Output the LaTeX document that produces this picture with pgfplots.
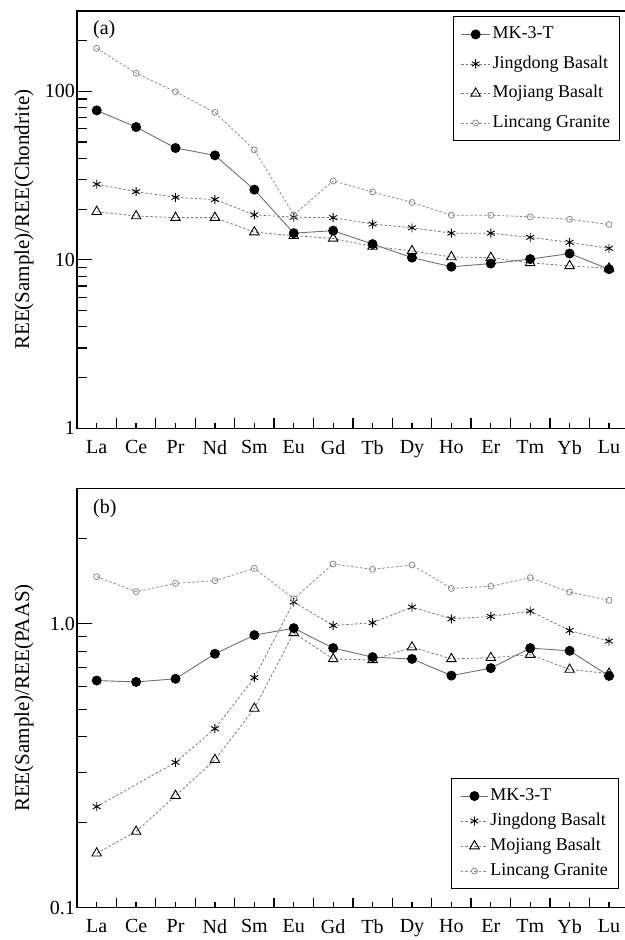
\documentclass[border=0pt]{standalone}
\usepackage{pgfplots}
\usepackage{pgfplotstable}
\pgfplotsset{compat=1.18}
\usepackage{fontspec}
\setmainfont{Liberation Serif}
\definecolor{mkline}{HTML}{707070}
\definecolor{dline}{HTML}{7A7A7A}
\definecolor{lcg}{HTML}{8C8C8C}

\pgfplotstableread{
x MK JD MJ LC
0 77.1 28.1 19.3 180
1 61.4 25.4 18.2 128
2 46.1 23.5 17.8 99.5
3 41.7 22.8 17.8 75
4 26.1 18.5 14.6 44.9
5 14.4 17.9 13.9 18.5
6 14.9 17.8 13.4 29.4
7 12.4 16.3 12.0 25.3
8 10.3 15.5 11.3 21.9
9 9.1 14.4 10.4 18.4
10 9.5 14.4 10.3 18.4
11 10.1 13.6 9.6 18.0
12 10.9 12.7 9.2 17.4
13 8.8 11.7 8.9 16.2
}\chon

\pgfplotstableread{
x MK JD MJ LC
0 0.631 0.227 0.1555 1.465
1 0.624 nan 0.1855 1.297
2 0.640 0.325 0.248 1.388
3 0.784 0.427 0.332 1.418
4 0.912 0.646 0.503 1.567
5 0.965 1.193 0.929 1.225
6 0.821 0.986 0.752 1.624
7 0.763 1.008 0.746 1.555
8 0.752 1.145 0.827 1.611
9 0.657 1.041 0.752 1.332
10 0.698 1.061 0.759 1.355
11 0.821 1.108 0.779 1.453
12 0.803 0.947 0.690 1.293
13 0.655 0.869 0.668 1.209
}\paas

\pgfplotsset{
  mkstyle/.style={color=mkline, line width=0.9pt, mark=*, mark size=4.5pt, mark options={solid, fill=black, draw=black}},
  jdstyle/.style={color=dline, line width=0.8pt, dash pattern=on 2.5pt off 2pt, mark=asterisk, mark size=4.5pt, mark options={solid, black, line width=0.9pt}},
  mjstyle/.style={color=dline, line width=0.8pt, dash pattern=on 2.5pt off 2pt, mark=triangle, mark size=5.5pt, mark options={solid, black, line width=0.9pt}},
  lcstyle/.style={color=lcg, line width=0.8pt, dash pattern=on 2.5pt off 2pt, mark=o, mark size=3pt, mark options={solid, lcg, line width=0.8pt}},
}

\begin{document}
\begin{tikzpicture}
\begin{axis}[ymode=log, clip=false,
  scale only axis, width=548.5pt, xmin=-0.5, xmax=13.418,
  xtick={0,1,2,3,4,5,6,7,8,9,10,11,12,13},
  xticklabels={La,Ce,Pr,Nd,Sm,Eu,Gd,Tb,Dy,Ho,Er,Tm,Yb,Lu},
  tick align=inside,
  xtick pos=left, ytick pos=left,
  major tick length=5pt, minor tick length=9.5pt,
  ytick={1,10,100}, yticklabels={1,10,100},
  extra y ticks={1,10,100}, extra y tick labels={},
  extra y tick style={major tick length=15pt},
  axis line style={line width=1.2pt},
  every tick/.style={line width=1.2pt, black},
  every minor tick/.style={line width=1.2pt, black},
  ticklabel style={font=\fontsize{20}{24}\selectfont},
  xticklabel style={yshift=-8.5pt},
  yticklabel style={inner xsep=2pt},
  /pgf/number format/assume math mode=true,
  every axis y label/.style={at={(axis description cs:-0.0966,0.5)}, rotate=90, anchor=center, font=\fontsize{21}{25}\selectfont},
  legend cell align=left,
  legend image code/.code={\draw[mark repeat=2,mark phase=2] plot coordinates {(0pt,0pt)(14.5pt,0pt)(29pt,0pt)};},
  at={(77pt,511.7pt)}, anchor=south west, height=417.3pt,
  ymin=1, ymax=300,
  minor ytick={2,3,4,5,6,7,8,9,20,30,40,50,60,70,80,90,200,300},
  ylabel={REE(Sample)/REE(Chondrite)},
  legend style={at={(rel axis cs:1,1)}, anchor=north east, xshift=-5.5pt, yshift=-5pt,
    draw=black, line width=0.9pt, font=\fontsize{18}{21}\selectfont,
    inner sep=7.5pt, row sep=8.5pt,
    nodes={inner sep=2pt, text height=13pt, text depth=4pt}},
]
\pgfplotsinvokeforeach{0,1,2,3,4,5,6,7,8,9,10,11,12,13}{
  \draw[line width=1.3pt, black] (axis cs:#1,1) -- ([yshift=5.5pt]axis cs:#1,1);}
\pgfplotsinvokeforeach{-0.5,0.5,1.5,2.5,3.5,4.5,5.5,6.5,7.5,8.5,9.5,10.5,11.5,12.5}{
  \draw[line width=1.3pt, black] (axis cs:#1,1) -- ([yshift=10pt]axis cs:#1,1);}
\addplot[mkstyle] table[x=x,y=MK]{\chon};
\addlegendentry{MK-3-T}
\addplot[jdstyle] table[x=x,y=JD]{\chon};
\addlegendentry{Jingdong Basalt}
\addplot[mjstyle] table[x=x,y=MJ]{\chon};
\addlegendentry{Mojiang Basalt}
\addplot[lcstyle] table[x=x,y=LC]{\chon};
\addlegendentry{Lincang Granite}
\node[anchor=west, font=\fontsize{20}{24}\selectfont, inner sep=0pt] at (rel axis cs:0.029,0.954) {(a)};
\end{axis}

\begin{axis}[ymode=log, clip=false,
  scale only axis, width=548.5pt, xmin=-0.5, xmax=13.418,
  xtick={0,1,2,3,4,5,6,7,8,9,10,11,12,13},
  xticklabels={La,Ce,Pr,Nd,Sm,Eu,Gd,Tb,Dy,Ho,Er,Tm,Yb,Lu},
  tick align=inside,
  xtick pos=left, ytick pos=left,
  major tick length=5pt, minor tick length=9.5pt,
  ytick={0.1,1}, yticklabels={0.1,1.0},
  extra y ticks={0.1,1}, extra y tick labels={},
  extra y tick style={major tick length=15pt},
  axis line style={line width=1.2pt},
  every tick/.style={line width=1.2pt, black},
  every minor tick/.style={line width=1.2pt, black},
  ticklabel style={font=\fontsize{20}{24}\selectfont},
  xticklabel style={yshift=-8.5pt},
  yticklabel style={inner xsep=2pt},
  /pgf/number format/assume math mode=true,
  every axis y label/.style={at={(axis description cs:-0.0966,0.5)}, rotate=90, anchor=center, font=\fontsize{21}{25}\selectfont},
  legend cell align=left,
  legend image code/.code={\draw[mark repeat=2,mark phase=2] plot coordinates {(0pt,0pt)(13.5pt,0pt)(27pt,0pt)};},
  at={(77pt,32.3pt)}, anchor=south west, height=419.4pt,
  ymin=0.1, ymax=3,
  minor ytick={0.2,0.3,0.4,0.5,0.6,0.7,0.8,0.9,2,3},
  ylabel={REE(Sample)/REE(PAAS)},
  legend style={at={(rel axis cs:1,0)}, anchor=south east, xshift=-6.2pt, yshift=18.7pt,
    draw=black, line width=0.9pt, font=\fontsize{18}{21}\selectfont,
    inner xsep=9pt, inner ysep=7pt, row sep=4pt,
    nodes={inner sep=2pt, text height=13pt, text depth=4pt}},
]
\pgfplotsinvokeforeach{0,1,2,3,4,5,6,7,8,9,10,11,12,13}{
  \draw[line width=1.3pt, black] (axis cs:#1,0.1) -- ([yshift=5.5pt]axis cs:#1,0.1);}
\pgfplotsinvokeforeach{-0.5,0.5,1.5,2.5,3.5,4.5,5.5,6.5,7.5,8.5,9.5,10.5,11.5,12.5}{
  \draw[line width=1.3pt, black] (axis cs:#1,0.1) -- ([yshift=10pt]axis cs:#1,0.1);}
\addplot[mkstyle] table[x=x,y=MK]{\paas};
\addlegendentry{MK-3-T}
\addplot[jdstyle] table[x=x,y=JD]{\paas};
\addlegendentry{Jingdong Basalt}
\addplot[mjstyle] table[x=x,y=MJ]{\paas};
\addlegendentry{Mojiang Basalt}
\addplot[lcstyle] table[x=x,y=LC]{\paas};
\addlegendentry{Lincang Granite}
\node[anchor=west, font=\fontsize{20}{24}\selectfont, inner sep=0pt] at (rel axis cs:0.029,0.952) {(b)};
\end{axis}
\pgfresetboundingbox
\path[use as bounding box] (0,0) rectangle (624pt,940pt);
\end{tikzpicture}
\end{document}
